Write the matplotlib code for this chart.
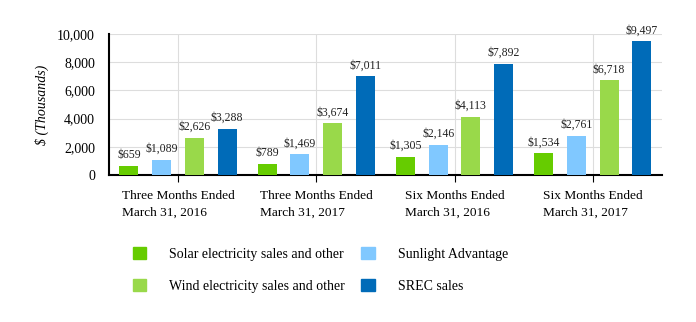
import matplotlib
matplotlib.use("Agg")
import matplotlib.pyplot as plt
import numpy as np
from matplotlib.patches import Rectangle

categories = ["Three Months Ended\nMarch 31, 2016", "Three Months Ended\nMarch 31, 2017",
              "Six Months Ended\nMarch 31, 2016", "Six Months Ended\nMarch 31, 2017"]
series_names = ["Solar electricity sales and other", "Sunlight Advantage",
                "Wind electricity sales and other", "SREC sales"]
solar = [659, 789, 1305, 1534]
sunlight = [1089, 1469, 2146, 2761]
wind = [2626, 3674, 4113, 6718]
srec = [3288, 7011, 7892, 9497]
colors = ["#66CC00", "#80C8FF", "#99D94A", "#006BB8"]
yticks = [0, 2000, 4000, 6000, 8000, 10000]

plt.rcParams['font.family'] = ['Liberation Serif', 'DejaVu Serif']

fig = plt.figure(figsize=(6.96, 3.22), dpi=100)
ax = fig.add_axes([0.1566, 0.4565, 0.7944, 0.4375])

x = np.arange(len(categories))
step = 0.237
width = 0.137
data = [solar, sunlight, wind, srec]
for i, (vals, c) in enumerate(zip(data, colors)):
    pos = x + (i - 1.5) * step
    ax.bar(pos, vals, width=width, color=c, zorder=3)
    for p, v in zip(pos, vals):
        ax.text(p, v + 350, f"${v:,}", ha='center', va='bottom', fontsize=8.5, color='#222222')

ax.set_xlim(-0.5, 3.5)
ax.set_ylim(0, 10000)
ax.set_yticks(yticks)
ax.set_yticklabels([f"{t:,}" for t in yticks], fontsize=10)
ax.set_xticks(x)
ax.set_xticklabels(categories, fontsize=9.6, multialignment='left', linespacing=1.45)
ax.tick_params(axis='x', length=5, pad=6, color='black')
ax.tick_params(axis='y', length=0, pad=10)
ax.grid(True, color='#dddddd', linewidth=0.8, zorder=0)
for s in ['top', 'right']:
    ax.spines[s].set_visible(False)
ax.spines['left'].set_linewidth(1.5)
ax.spines['bottom'].set_linewidth(1.5)
ax.set_ylabel("$ (Thousands)", fontsize=10, style='italic', labelpad=6)

# legend
handles = [Rectangle((0, 0), 1, 1, color=c) for c in colors]
order = [0, 2, 1, 3]
leg = fig.legend([handles[i] for i in order], [series_names[i] for i in order],
                 loc='upper left', bbox_to_anchor=(0.173, 0.272), ncol=2, frameon=False,
                 fontsize=10, handlelength=0.95, handleheight=0.95, handletextpad=1.65,
                 columnspacing=1.2, labelspacing=1.35)

fig.savefig("out.png", dpi=100)
